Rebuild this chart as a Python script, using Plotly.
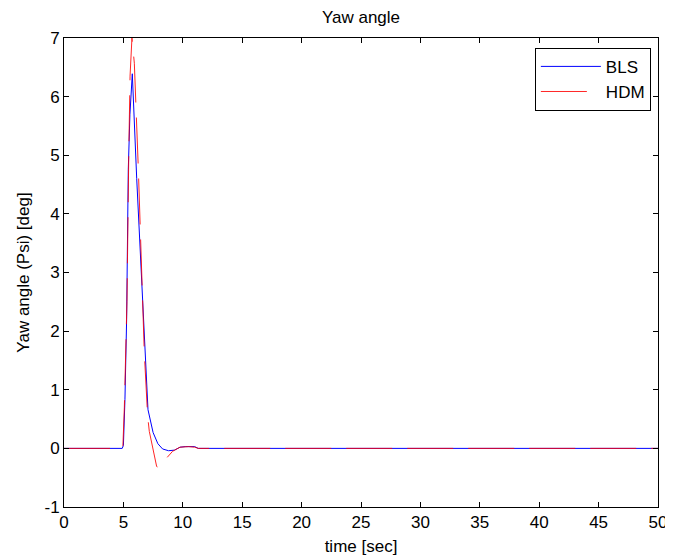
import plotly.graph_objects as go

# ---- data ----
t_bls = [0, 4.9, 5.0, 5.13, 5.27, 5.41, 5.55, 5.75, 6.12, 6.4, 6.68, 7.07, 7.5, 7.9, 8.3, 8.8, 9.3, 9.77, 10.2, 11.0, 11.3, 50]
bls = [0, 0, 0.05, 0.83, 2.19, 4.75, 5.7, 6.39, 4.6, 3.4, 2.19, 0.66, 0.27, 0.08, -0.01, -0.04, -0.03, 0.02, 0.03, 0.03, 0, 0]

t_hdm = [0, 4.95, 5.08, 5.3, 5.45, 5.56, 5.72, 5.92, 6.26, 6.71, 6.76, 7.04, 7.18, 7.8, 8.0, 8.22, 9.14, 9.76, 10.5, 11.0, 11.3, 50]
hdm = [0, 0, 0.7, 2.5, 5.0, 6.35, 7.0, 6.57, 4.75, 2.19, 1.63, 0.55, 0.29, -0.31, -0.33, -0.26, -0.05, 0.02, 0.03, 0.02, 0, 0]

x_ticks = [0, 5, 10, 15, 20, 25, 30, 35, 40, 45, 50]
y_ticks = [-1, 0, 1, 2, 3, 4, 5, 6, 7]

title_text = "Yaw angle"
x_label = "time [sec]"
y_label = "Yaw angle (Psi) [deg]"

FONT = "Liberation Sans, Arial, Helvetica, sans-serif"
FS = 17

# page body has an 8px default margin, so the figure is sized to fit inside it
W, H = 673 - 8, 558 - 8
ML, MR, MT, MB = 56, 15, 30, 51

fig = go.Figure()
fig.add_trace(go.Scatter(x=t_bls, y=bls, mode="lines", name="BLS",
                         line=dict(color="#0000ff", width=1)))
fig.add_trace(go.Scatter(x=t_hdm, y=hdm, mode="lines", name="HDM", opacity=0.85,
                         line=dict(color="#ff0000", width=1, dash="46px,15px")))

axis_common = dict(showline=True, linecolor="black", linewidth=1, mirror="ticks",
                   ticks="inside", ticklen=5, tickcolor="black", showgrid=False,
                   zeroline=False, automargin=False,
                   tickfont=dict(family=FONT, size=FS, color="black"))

fig.update_layout(
    width=W, height=H,
    paper_bgcolor="white", plot_bgcolor="white",
    margin=dict(l=ML, r=MR, t=MT, b=MB, autoexpand=False),
    title=dict(text=title_text, x=0.5, xanchor="center", xref="paper",
               y=1 - 9 / H, yanchor="middle", yref="container",
               font=dict(family=FONT, size=FS, color="black")),
    xaxis=dict(range=[0, 50], tickvals=x_ticks, ticktext=[str(v) for v in x_ticks],
               title=dict(text=x_label, font=dict(family=FONT, size=FS, color="black"), standoff=8),
               **axis_common),
    yaxis=dict(range=[-1, 7], tickvals=y_ticks, ticktext=[str(v) for v in y_ticks],
               title=dict(text=y_label, font=dict(family=FONT, size=FS, color="black"), standoff=10),
               **axis_common),
    legend=dict(x=0.988, y=0.979, xanchor="right", yanchor="top",
                bgcolor="white", bordercolor="black", borderwidth=1,
                font=dict(family=FONT, size=FS, color="black"),
                tracegroupgap=0, itemwidth=60),
    showlegend=True,
)

fig.write_html("out.html")
